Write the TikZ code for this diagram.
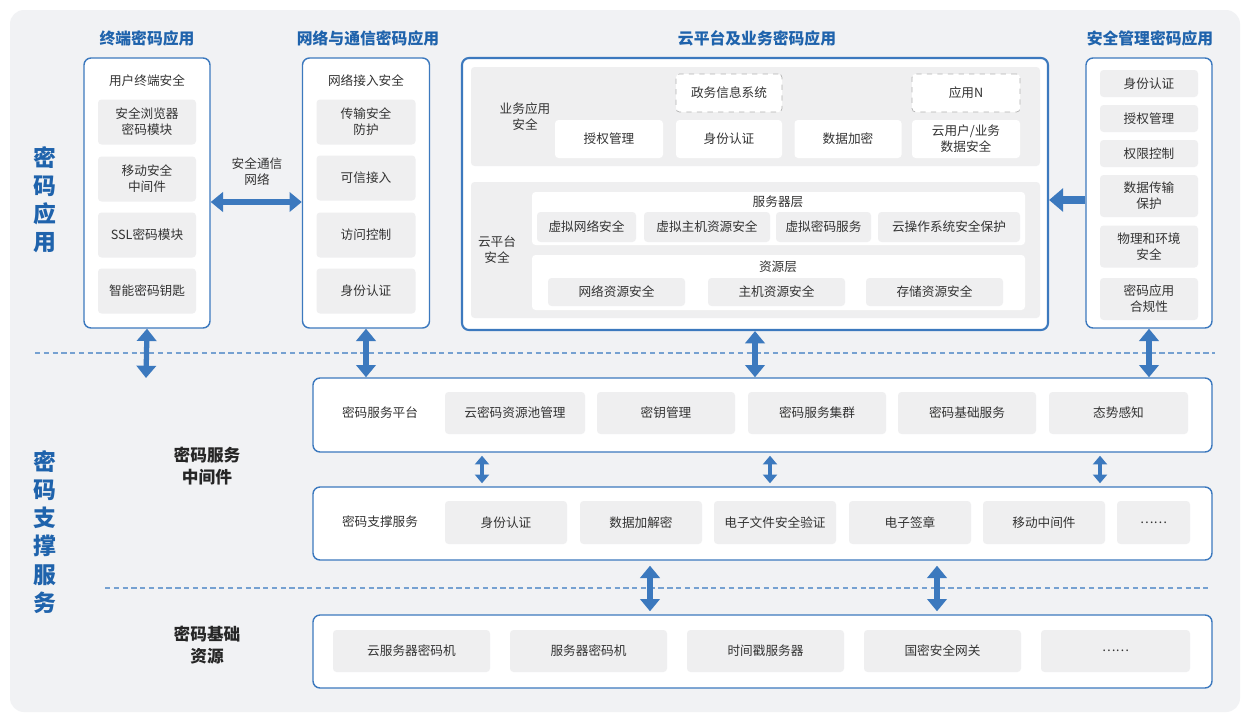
\documentclass[tikz,border=0pt]{standalone}
\usepackage{fontspec}
\setmainfont{Noto Sans CJK SC}
\usetikzlibrary{arrows.meta, positioning, calc}
\definecolor{MainBlue}{HTML}{1F63AC}
\definecolor{EdgeBlue}{HTML}{3C79BE}
\definecolor{CellGray}{HTML}{EFEFF0}
\definecolor{PageGray}{HTML}{F1F2F4}
\definecolor{TextDark}{HTML}{333333}

\begin{document}
\begin{tikzpicture}[
    x=0.02cm, y=-0.02cm,
    sz/.style 2 args={minimum width=#1*0.02cm, minimum height=#2*0.02cm},
    frame/.style={draw=EdgeBlue, line width=0.8pt, rounded corners=4pt, fill=white, inner sep=0pt},
    cell/.style={fill=CellGray, rounded corners=2pt, align=center, inner sep=1pt,
                 font=\fontsize{7.2}{9}\selectfont, text=TextDark},
    plain/.style={align=center, font=\fontsize{7.2}{9}\selectfont, text=TextDark},
    dashcell/.style={cell, fill=white, draw=gray!60, dashed},
    coltitle/.style={font=\fontsize{9}{11}\selectfont\bfseries, text=MainBlue},
    sidetitle/.style={font=\fontsize{13}{16}\selectfont\bfseries, text=MainBlue, align=center},
    midtitle/.style={font=\fontsize{9.5}{13}\selectfont\bfseries, text=black!85, align=center},
    dbl/.style={draw=EdgeBlue, line width=3pt,
                {Triangle[width=11pt,length=7pt]}-{Triangle[width=11pt,length=7pt]}},
    sdbl/.style={draw=EdgeBlue, line width=2.2pt,
                {Triangle[width=8pt,length=5pt]}-{Triangle[width=8pt,length=5pt]}},
    sep/.style={draw=EdgeBlue!70, densely dashed, line width=0.6pt}
]
    % background
    \fill[white] (0,0) rectangle (1250,720);
    \fill[PageGray, rounded corners=8pt] (10,10) rectangle (1240,712);

    % side titles
    \node[sidetitle] (sapp) at (45,200) {密\\码\\应\\用};
    \node[sidetitle] (ssup) at (45,532) {密\\码\\支\\撑\\服\\务};
    \draw[sep] (35,353) -- (1215,353);
    \draw[sep] (105,588) -- (1210,588);

    % column titles
    \node[coltitle] (t1) at (147,38) {终端密码应用};
    \node[coltitle] (t2) at (368,38) {网络与通信密码应用};
    \node[coltitle] (t3) at (757,38) {云平台及业务密码应用};
    \node[coltitle] (t4) at (1150,38) {安全管理密码应用};

    % terminal
    \node[frame, sz={126}{270}] (term) at (147,193) {};
    \node[plain] at (147,81) {用户终端安全};
    \node[cell, sz={98}{45}] (tm1) at (147,122) {安全浏览器\\密码模块};
    \node[cell, sz={98}{45}] (tm2) at (147,179) {移动安全\\中间件};
    \node[cell, sz={98}{45}] (tm3) at (147,235) {SSL密码模块};
    \node[cell, sz={98}{45}] (tm4) at (147,291) {智能密码钥匙};

    % network
    \node[frame, sz={127}{270}] (net) at (366,193) {};
    \node[plain] at (366,81) {网络接入安全};
    \node[cell, sz={99}{45}] (nw1) at (366,122) {传输安全\\防护};
    \node[cell, sz={99}{45}] (nw2) at (366,178) {可信接入};
    \node[cell, sz={99}{45}] (nw3) at (366,235) {访问控制};
    \node[cell, sz={99}{45}] (nw4) at (366,291) {身份认证};
    \draw[dbl] (term.east |- 0,202) -- (net.west |- 0,202);
    \node[plain] (chan) at (257,172) {安全通信\\网络};

    % cloud
    \node[frame, line width=1.2pt, sz={586}{272}] (cloud) at (755,194) {};
    \node[cell, sz={569}{99}] (biz) at (755.5,116.5) {};
    \node[plain] at (525,117) {业务应用\\安全};
    \node[dashcell, sz={106}{38}] (gov) at (729,93) {政务信息系统};
    \node[dashcell, sz={108}{38}] (appn) at (966,93) {应用N};
    \node[cell, fill=white, sz={108}{38}] (b1) at (609,139) {授权管理};
    \node[cell, fill=white, sz={106}{38}] (b2) at (729,139) {身份认证};
    \node[cell, fill=white, sz={107}{38}] (b3) at (848,139) {数据加密};
    \node[cell, fill=white, sz={108}{38}] (b4) at (966,139) {云用户/业务\\数据安全};
    \node[cell, sz={569}{136}] (plat) at (755.5,250) {};
    \node[plain] at (497,250) {云平台\\安全};
    \node[cell, fill=white, sz={493}{53}] (srv) at (778.5,218.5) {};
    \node[plain] at (778,202) {服务器层};
    \node[cell, sz={99}{30}] (s1) at (586.5,227) {虚拟网络安全};
    \node[cell, sz={126}{30}] (s2) at (707,227) {虚拟主机资源安全};
    \node[cell, sz={95}{30}] (s3) at (823.5,227) {虚拟密码服务};
    \node[cell, sz={142}{30}] (s4) at (949,227) {云操作系统安全保护};
    \node[cell, fill=white, sz={493}{55}] (res) at (778.5,282.5) {};
    \node[plain] at (778,267) {资源层};
    \node[cell, sz={137}{28}] (r1) at (616.5,292) {网络资源安全};
    \node[cell, sz={137}{28}] (r2) at (776.5,292) {主机资源安全};
    \node[cell, sz={137}{28}] (r3) at (934.5,292) {存储资源安全};

    % management
    \node[frame, sz={126}{270}] (mgmt) at (1149,193) {};
    \node[cell, sz={98}{27}] (m1) at (1149,83.5) {身份认证};
    \node[cell, sz={98}{27}] (m2) at (1149,118.5) {授权管理};
    \node[cell, sz={98}{27}] (m3) at (1149,153.5) {权限控制};
    \node[cell, sz={98}{42}] (m4) at (1149,196) {数据传输\\保护};
    \node[cell, sz={98}{42}] (m5) at (1149,246.5) {物理和环境\\安全};
    \node[cell, sz={98}{42}] (m6) at (1149,299) {密码应用\\合规性};
    \draw[draw=EdgeBlue, line width=4pt, -{Triangle[width=13pt,length=8pt]}]
        (mgmt.west |- 0,200) -- (cloud.east |- 0,200);

    % service platform
    \node[frame, sz={899}{74}] (svc) at (762.5,415) {};
    \node[plain] at (380,413) {密码服务平台};
    \node[cell, sz={140}{42}] (p1) at (515,413) {云密码资源池管理};
    \node[cell, sz={138}{42}] (p2) at (666,413) {密钥管理};
    \node[cell, sz={138}{42}] (p3) at (817,413) {密码服务集群};
    \node[cell, sz={138}{42}] (p4) at (967,413) {密码基础服务};
    \node[cell, sz={139}{42}] (p5) at (1118.5,413) {态势感知};
    \coordinate (lend) at (146,378);
    \draw[dbl] (term.south) -- (lend);
    \draw[dbl] (net.south) -- (net.south |- svc.north);
    \draw[dbl] (cloud.south) -- (cloud.south |- svc.north);
    \draw[dbl] (mgmt.south) -- (mgmt.south |- svc.north);

    \node[midtitle] (mid) at (207,466) {密码服务\\中间件};

    % support services
    \node[frame, sz={899}{73}] (sup) at (762.5,523.5) {};
    \node[plain] at (380,522) {密码支撑服务};
    \node[cell, sz={122}{43}] (u1) at (506,522.5) {身份认证};
    \node[cell, sz={122}{43}] (u2) at (641,522.5) {数据加解密};
    \node[cell, sz={122}{43}] (u3) at (775,522.5) {电子文件安全验证};
    \node[cell, sz={122}{43}] (u4) at (910,522.5) {电子签章};
    \node[cell, sz={122}{43}] (u5) at (1044,522.5) {移动中间件};
    \node[cell, sz={73}{43}] (u6) at (1153.5,522.5) {……};
    \foreach \px in {482,770,1100}
        \draw[sdbl] ($(svc.south -| \px,0)+(0,3)$) -- ($(sup.north -| \px,0)+(0,-3)$);

    \node[midtitle] (base) at (207,645) {密码基础\\资源};

    % base resources
    \node[frame, sz={899}{73}] (hw) at (762.5,651.5) {};
    \node[cell, sz={157}{42}] (h1) at (411.5,651) {云服务器密码机};
    \node[cell, sz={157}{42}] (h2) at (588.5,651) {服务器密码机};
    \node[cell, sz={157}{42}] (h3) at (765.5,651) {时间戳服务器};
    \node[cell, sz={157}{42}] (h4) at (942.5,651) {国密安全网关};
    \node[cell, sz={149}{42}] (h5) at (1115.5,651) {……};
    \foreach \px in {650,937}
        \draw[dbl] ($(sup.south -| \px,0)+(0,5)$) -- ($(hw.north -| \px,0)+(0,-3)$);
\end{tikzpicture}
\end{document}
